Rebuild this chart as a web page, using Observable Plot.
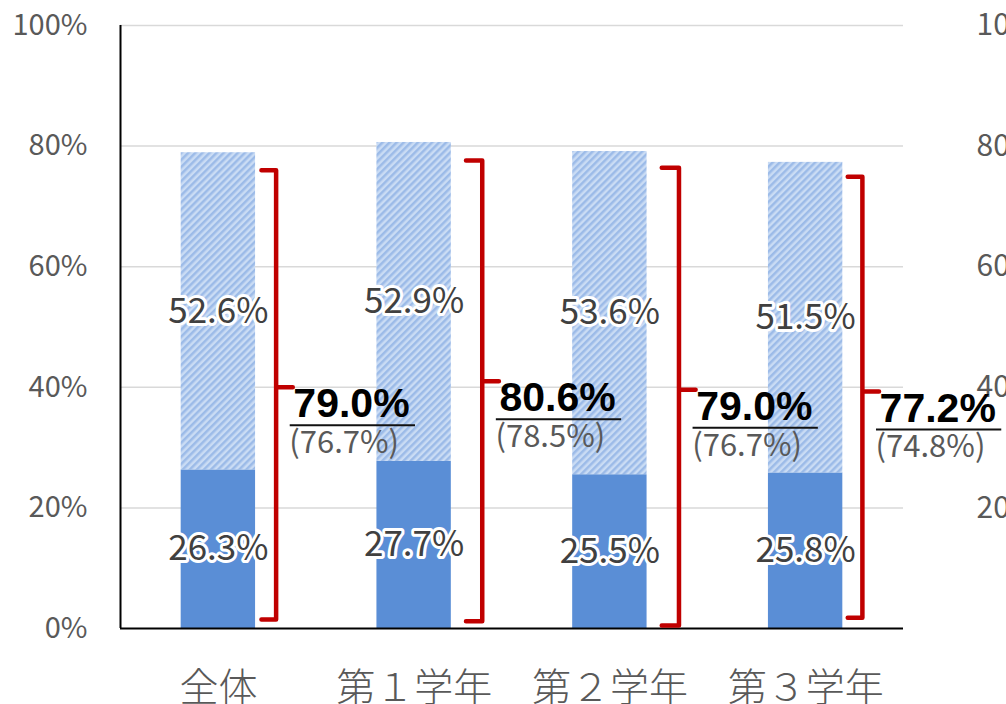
<!DOCTYPE html>
<html>
<head>
<meta charset="utf-8">
<script src="https://cdn.jsdelivr.net/npm/d3@7"></script>
<script src="https://cdn.jsdelivr.net/npm/@observablehq/plot@0.6"></script>
<style>
  html, body { margin: 0; padding: 0; background: #fff; }
</style>
</head>
<body>
<div id="chart"></div>
<script>
// ---- data ----
const categories = ["全体", "第１学年", "第２学年", "第３学年"];
const lowerShare = [26.3, 27.7, 25.5, 25.8];
const upperShare = [52.6, 52.9, 53.6, 51.5];
const totalLabels = ["79.0%", "80.6%", "79.0%", "77.2%"];
const prevLabels = ["(76.7%)", "(78.5%)", "(76.7%)", "(74.8%)"];
const bracketTop = [76.0, 77.6, 76.4, 74.9];
const bracketMid = [40.0, 41.0, 39.6, 39.3];
const bracketBottom = [1.5, 1.2, 0.5, 1.8];
const yTicks = [0, 20, 40, 60, 80, 100];
const rightTicks = [20, 40, 60, 80, 100];

// ---- layout constants (in x-scale units) ----
const half = 0.19;
const hookStart = [0.22, 0.265, 0.265, 0.215];
const vertical = [0.295, 0.348, 0.353, 0.29];
const tick = 0.085;

const idx = categories.map((c, i) => i);
const lower = idx.map(i => ({i, y1: 0, y2: lowerShare[i], v: lowerShare[i]}));
const upper = idx.map(i => ({i, y1: lowerShare[i], y2: lowerShare[i] + upperShare[i], v: upperShare[i]}));

const bracketPts = idx.flatMap(i => {
  const a = i + hookStart[i], b = i + vertical[i];
  return [
    {i, x: a, y: bracketTop[i]},
    {i, x: b, y: bracketTop[i]},
    {i, x: b, y: bracketMid[i]},
    {i, x: b + tick, y: bracketMid[i]},
    {i, x: b, y: bracketMid[i]},
    {i, x: b, y: bracketBottom[i]},
    {i, x: a, y: bracketBottom[i]}
  ];
});

const labelRows = idx.map(i => ({
  i,
  x: i + vertical[i] + 0.088,
  xu1: i + vertical[i] + 0.072,
  xu2: i + vertical[i] + 0.072 + 0.64,
  y: bracketMid[i],
  total: totalLabels[i],
  prev: prevLabels[i]
}));

const gray = "#595959";
const chart = Plot.plot({
  width: 1006,
  height: 704,
  marginLeft: 120,
  marginRight: 103,
  marginTop: 25,
  marginBottom: 76,
  style: {fontFamily: "'Noto Sans CJK JP', 'Noto Sans', sans-serif", background: "#fff", overflow: "hidden"},
  x: {domain: [-0.5, 3.5]},
  y: {domain: [0, 100]},
  marks: [
    Plot.gridY(yTicks.filter(d => d > 0), {stroke: "#d9d9d9", strokeOpacity: 1, strokeWidth: 1.5}),
    Plot.axisY(yTicks, {anchor: "left", tickSize: 0, tickPadding: 33, tickFormat: d => d + "%", fontSize: 29, fill: gray, label: null}),
    Plot.axisY(rightTicks, {anchor: "right", tickSize: 0, tickPadding: 73, tickFormat: d => d + "%", fontSize: 30, fill: gray, label: null}),
    Plot.axisX(idx, {anchor: "bottom", tickSize: 0, tickPadding: 45, tickFormat: i => categories[i], fontSize: 39, fill: gray, fontWeight: 300, label: null}),
    Plot.rectY(lower, {x1: d => d.i - half, x2: d => d.i + half, y1: "y1", y2: "y2", fill: "#5a8ed6"}),
    Plot.rectY(upper, {x1: d => d.i - half, x2: d => d.i + half, y1: "y1", y2: "y2", fill: "url(#hatch)"}),
    Plot.ruleX([-0.5], {y1: 0, y2: 100, stroke: "#000", strokeWidth: 2}),
    Plot.ruleY([0], {stroke: "#000", strokeWidth: 2}),
    Plot.text([...lower, ...upper], {
      x: "i", y: d => (d.y1 + d.y2) / 2, text: d => d.v.toFixed(1) + "%",
      fill: "#404040", stroke: "#fff", strokeWidth: 6, fontSize: 35
    }),
    Plot.line(bracketPts, {x: "x", y: "y", z: "i", stroke: "#c00000", strokeWidth: 4.5, strokeLinejoin: "round", strokeLinecap: "round", curve: "linear"}),
    Plot.ruleY(labelRows, {x1: "xu1", x2: "xu2", y: "y", dy: 38, stroke: "#111", strokeWidth: 2}),
    Plot.text(labelRows, {x: "x", y: "y", text: "total", textAnchor: "start", dy: 17, fontSize: 41, fontWeight: "bold", fill: "#000", fontFamily: "'Liberation Sans', Arial, sans-serif"}),
    Plot.text(labelRows, {x: "x", y: "y", text: "prev", textAnchor: "start", dx: -4, dy: 56, fontSize: 31, fill: gray})
  ]
});

const defs = document.createElementNS("http://www.w3.org/2000/svg", "defs");
defs.innerHTML = '<pattern id="hatch" width="5" height="5" patternUnits="userSpaceOnUse" patternTransform="rotate(45)">' +
  '<rect width="5" height="5" fill="#cadcf4"></rect><rect width="2.5" height="5" fill="#9cbbe8"></rect></pattern>';
chart.insertBefore(defs, chart.firstChild);

document.getElementById("chart").appendChild(chart);
</script>
</body>
</html>
